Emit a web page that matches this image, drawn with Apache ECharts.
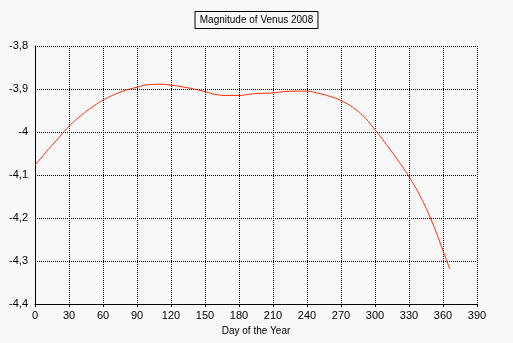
<!DOCTYPE html>
<html>
<head>
<meta charset="utf-8">
<script src="https://cdn.jsdelivr.net/npm/echarts@6/dist/echarts.min.js"></script>
<style>html,body{margin:0;padding:0;background:#f8f8f8;}#c{width:513px;height:343px;}</style>
</head>
<body>
<div id="c"></div>
<script>
const days = [0,10,20,30,40,50,60,70,80,90,100,110,120,130,140,150,160,170,180,190,200,210,220,230,240,250,260,270,280,290,300,310,320,330,340,350,360,366];
const magnitude = [-4.077,-4.046,-4.016,-3.987,-3.963,-3.943,-3.926,-3.913,-3.903,-3.896,-3.890,-3.889,-3.891,-3.895,-3.900,-3.906,-3.913,-3.915,-3.915,-3.912,-3.910,-3.909,-3.906,-3.905,-3.905,-3.910,-3.917,-3.927,-3.942,-3.964,-3.995,-4.029,-4.065,-4.104,-4.150,-4.207,-4.276,-4.319];
const titleText = 'Magnitude of Venus 2008';
const xAxisName = 'Day of the Year';
const xTicks = {min: 0, max: 390, step: 30};
const yTicks = {min: -4.4, max: -3.8, step: 0.1};

const font = 'Liberation Sans';
const chart = echarts.init(document.getElementById('c'));
chart.setOption({
  backgroundColor: '#f8f8f8',
  animation: false,
  title: {
    text: titleText,
    left: 'center',
    top: 11,
    padding: [4, 5, 4, 5],
    borderColor: '#000',
    borderWidth: 1,
    textStyle: {fontFamily: font, fontSize: 10, fontWeight: 'normal', color: '#000'}
  },
  grid: {left: 35, right: 36, top: 46, bottom: 39, containLabel: false},
  xAxis: {
    type: 'value',
    min: xTicks.min, max: xTicks.max, interval: xTicks.step,
    name: xAxisName, nameLocation: 'middle', nameGap: 19,
    nameTextStyle: {fontFamily: font, fontSize: 10, color: '#000'},
    axisLine: {lineStyle: {color: '#000', width: 1}},
    axisTick: {show: true, length: 3, lineStyle: {color: '#000'}},
    axisLabel: {fontFamily: font, fontSize: 11, color: '#000', margin: 6},
    splitLine: {show: true, lineStyle: {color: '#000', type: [1, 1], width: 1}}
  },
  yAxis: {
    type: 'value',
    min: yTicks.min, max: yTicks.max, interval: yTicks.step,
    axisLine: {show: true, lineStyle: {color: '#000', width: 1}},
    axisTick: {show: false},
    axisLabel: {fontFamily: font, fontSize: 11, color: '#000', margin: 7,
      formatter: v => String(Math.round(v * 10) / 10).replace('.', ',')},
    splitLine: {show: true, lineStyle: {color: '#000', type: [1, 1], width: 1}}
  },
  series: [{
    type: 'line',
    data: days.map((d, i) => [d, magnitude[i]]),
    smooth: true,
    showSymbol: false,
    lineStyle: {color: '#ff2a00', width: 1}
  }]
});
</script>
</body>
</html>
